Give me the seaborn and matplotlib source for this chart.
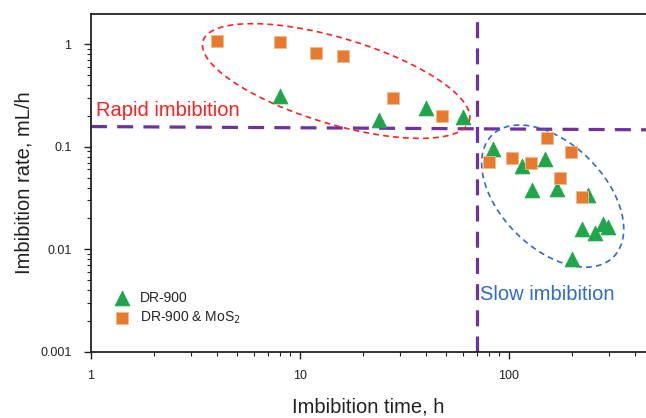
import numpy as np
import pandas as pd
import matplotlib
matplotlib.use("Agg")
import matplotlib.pyplot as plt
import seaborn as sns

# ---- data ----
dr_time = [8, 24, 40, 60, 84, 115, 149, 129, 170, 239, 223, 258, 282, 298, 200]
dr_rate = [0.31, 0.18, 0.24, 0.195, 0.095, 0.065, 0.076, 0.038, 0.039, 0.034,
           0.0158, 0.0144, 0.0177, 0.0165, 0.0081]
mos_time = [4, 8, 12, 16, 28, 48, 80, 103, 127, 152, 198, 175, 223]
mos_rate = [1.07, 1.05, 0.82, 0.76, 0.30, 0.20, 0.071, 0.078, 0.069, 0.122,
            0.089, 0.0496, 0.0324]
series_names = ["DR-900", "DR-900 & MoS$_2$"]
x_ticks = [1, 10, 100]
x_tick_labels = ["1", "10", "100"]
y_ticks = [0.001, 0.01, 0.1, 1]
y_tick_labels = ["0.001", "0.01", "0.1", "1"]

df = pd.concat([
    pd.DataFrame({"time": dr_time, "rate": dr_rate, "sample": series_names[0]}),
    pd.DataFrame({"time": mos_time, "rate": mos_rate, "sample": series_names[1]}),
])

sns.set_style("ticks")
plt.rcParams["font.family"] = ["Liberation Sans", "DejaVu Sans"]

fig = plt.figure(figsize=(6.46, 4.18), dpi=100)
ax = fig.add_axes([91 / 646, 1 - 352 / 418, 555 / 646, (352 - 14) / 418])

ax.set_xscale("log")
ax.set_yscale("log")
ax.set_xlim(1, 453)
ax.set_ylim(0.001, 1.96)

green = "#1fa64a"
orange = "#e87a2e"
purple = "#7030a0"

# threshold lines
ax.axvline(70, color=purple, lw=2.3, ls=(0, (5, 3.2)), zorder=1)
ax.plot([1, 453], [0.157, 0.146], color=purple, lw=2.3, ls=(0, (5, 3.2)), zorder=1)

sns.scatterplot(data=df[df["sample"] == series_names[0]], x="time", y="rate",
                marker="^", s=115, color=green, edgecolor=green, linewidth=0.5,
                ax=ax, zorder=3, label=series_names[0])
sns.scatterplot(data=df[df["sample"] == series_names[1]], x="time", y="rate",
                marker="s", s=85, color=orange, edgecolor="#f3b98c", linewidth=0.6,
                ax=ax, zorder=3, label=series_names[1])


def ellipse(cx, cy, a, b, ang_deg, color):
    fig.canvas.draw()
    c = ax.transData.transform((cx, cy))
    t = np.linspace(0, 2 * np.pi, 300)
    th = np.deg2rad(ang_deg)
    px = c[0] + a * np.cos(t) * np.cos(th) - b * np.sin(t) * np.sin(th)
    py = c[1] + a * np.cos(t) * np.sin(th) + b * np.sin(t) * np.cos(th)
    d = ax.transData.inverted().transform(np.column_stack([px, py]))
    ax.plot(d[:, 0], d[:, 1], color=color, lw=1.2, ls=(0, (3.5, 2.5)), zorder=2)


ellipse(14.9, 0.436, 139, 43, -16.7, "#ff2020")
ellipse(162, 0.033, 86, 52, -45, "#2e6cc8")

ax.annotate("Rapid imbibition", xy=(96 / 646, 1 - 111 / 418), xycoords="figure fraction",
            color="#ff1f1f", fontsize=14.5, va="center", ha="left")
ax.annotate("Slow imbibition", xy=(480 / 646, 1 - 295 / 418), xycoords="figure fraction",
            color="#2e6cc8", fontsize=14.5, va="center", ha="left")

ax.set_xticks(x_ticks)
ax.set_xticklabels(x_tick_labels)
ax.set_yticks(y_ticks)
ax.set_yticklabels(y_tick_labels)
ax.tick_params(axis="both", which="major", labelsize=9, length=5, width=1,
               color="#222222", labelcolor="#222222")
ax.tick_params(axis="both", which="minor", length=3, width=0.8, color="#222222")
ax.tick_params(axis="x", pad=8)
ax.tick_params(axis="y", pad=9)

ax.set_xlabel("Imbibition time, h", fontsize=14.5, labelpad=11, color="#222222")
ax.set_ylabel("Imbibition rate, mL/h", fontsize=14.5, labelpad=5, color="#222222")

for sp in ["top", "left", "bottom"]:
    ax.spines[sp].set_linewidth(1.3)
    ax.spines[sp].set_color("#222222")
ax.spines["right"].set_visible(False)

leg = ax.legend(loc="lower left", bbox_to_anchor=(0.02, 0.06), frameon=False,
                fontsize=10, handletextpad=0.3, labelspacing=0.35, borderaxespad=0)

fig.savefig("out.png", dpi=100)
